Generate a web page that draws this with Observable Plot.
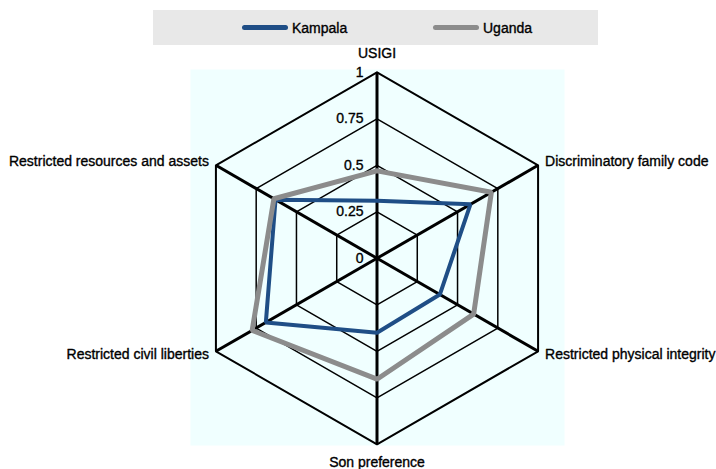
<!DOCTYPE html>
<html><head><meta charset="utf-8">
<script src="https://cdn.jsdelivr.net/npm/d3@7"></script>
<script src="https://cdn.jsdelivr.net/npm/@observablehq/plot@0.6"></script>
<style>
body{margin:0;background:#fff;font-family:"Liberation Sans",Arial,sans-serif;}
#wrap{position:relative;width:716px;height:469px;}
#legend{position:absolute;left:153px;top:10px;width:445px;height:35px;background:#e8e8e8;font-size:14px;color:#000;}
.item{position:absolute;top:0;height:35px;display:flex;align-items:center;}
.item span{-webkit-text-stroke:0.35px #000;}
.swatch{width:46px;height:5px;border-radius:2.5px;margin-right:4px;}
</style></head><body>
<div id="wrap"><div id="chart"></div><div id="legend"></div></div>
<script>
const axes = ["USIGI","Discriminatory family code","Restricted physical integrity","Son preference","Restricted civil liberties","Restricted resources and assets"];
const kampala = [0.31, 0.58, 0.39, 0.40, 0.69, 0.63];
const uganda = [0.47, 0.71, 0.60, 0.65, 0.775, 0.64];
const gridLevels = [0.25, 0.5, 0.75, 1];
const tickLabels = [0, 0.25, 0.5, 0.75, 1];
const seriesNames = ["Kampala", "Uganda"];
const seriesColors = ["#1f4e86", "#8c8c8c"];

const n = axes.length;
const ang = i => i * 2 * Math.PI / n;
const pt = (i, r) => ({x: r * Math.sin(ang(i)), y: r * Math.cos(ang(i))});
const closed = (vals) => d3.range(n + 1).map(k => pt(k % n, vals[k % n]));

const innerRings = gridLevels.filter(l => l < 1).flatMap(l => closed(axes.map(() => l)).map(p => ({...p, level: l})));
const outerRing = closed(axes.map(() => 1));
const spokes = axes.map((a, i) => ({x1: 0, y1: 0, x2: pt(i, 1).x, y2: pt(i, 1).y}));
const kampalaPts = closed(kampala);
const ugandaPts = closed(uganda);

const textStyle = {fontSize: 14, fill: "#000", stroke: "#000", strokeWidth: 0.35};

const labelMarks = axes.map((name, i) => {
  const s = Math.sin(ang(i)), c = Math.cos(ang(i));
  const side = Math.abs(s) < 0.1 ? 0 : Math.sign(s);
  const p = pt(i, 1);
  return Plot.text([{...p, name}], {
    x: "x", y: "y", text: "name",
    textAnchor: side === 0 ? "middle" : side > 0 ? "start" : "end",
    dx: side === 0 ? 0 : side * 7,
    dy: side === 0 ? -c * 18.5 : -c * 7,
    ...textStyle
  });
});

const chart = Plot.plot({
  width: 716, height: 469,
  marginLeft: 190, marginRight: 152, marginTop: 69, marginBottom: 24,
  x: {domain: [-1, 1], range: [190.5, 562.5], axis: null},
  y: {domain: [-1, 1], range: [443.8, 71.8], axis: null},
  style: {fontFamily: '"Liberation Sans", Arial, sans-serif', background: "transparent"},
  marks: [
    Plot.frame({fill: "#f0ffff", stroke: "none"}),
    Plot.line(innerRings, {x: "x", y: "y", z: "level", stroke: "#000", strokeWidth: 1.5}),
    Plot.line(outerRing, {x: "x", y: "y", stroke: "#000", strokeWidth: 2}),
    Plot.link(spokes, {x1: "x1", y1: "y1", x2: "x2", y2: "y2", stroke: "#000", strokeWidth: 3}),
    Plot.line(kampalaPts, {x: "x", y: "y", stroke: seriesColors[0], strokeWidth: 4, strokeLinejoin: "miter"}),
    Plot.line(ugandaPts, {x: "x", y: "y", stroke: seriesColors[1], strokeWidth: 5, strokeLinejoin: "miter"}),
    Plot.text(tickLabels, {x: () => 0, y: d => d, text: d => String(d), textAnchor: "end", dx: -13.5, ...textStyle}),
    ...labelMarks
  ]
});
document.getElementById("chart").appendChild(chart);

const legend = document.getElementById("legend");
const lefts = [89, 280];
seriesNames.forEach((name, i) => {
  const item = document.createElement("div");
  item.className = "item";
  item.style.left = lefts[i] + "px";
  item.innerHTML = `<div class="swatch" style="background:${seriesColors[i]}"></div><span>${name}</span>`;
  legend.appendChild(item);
});
</script>
</body></html>
